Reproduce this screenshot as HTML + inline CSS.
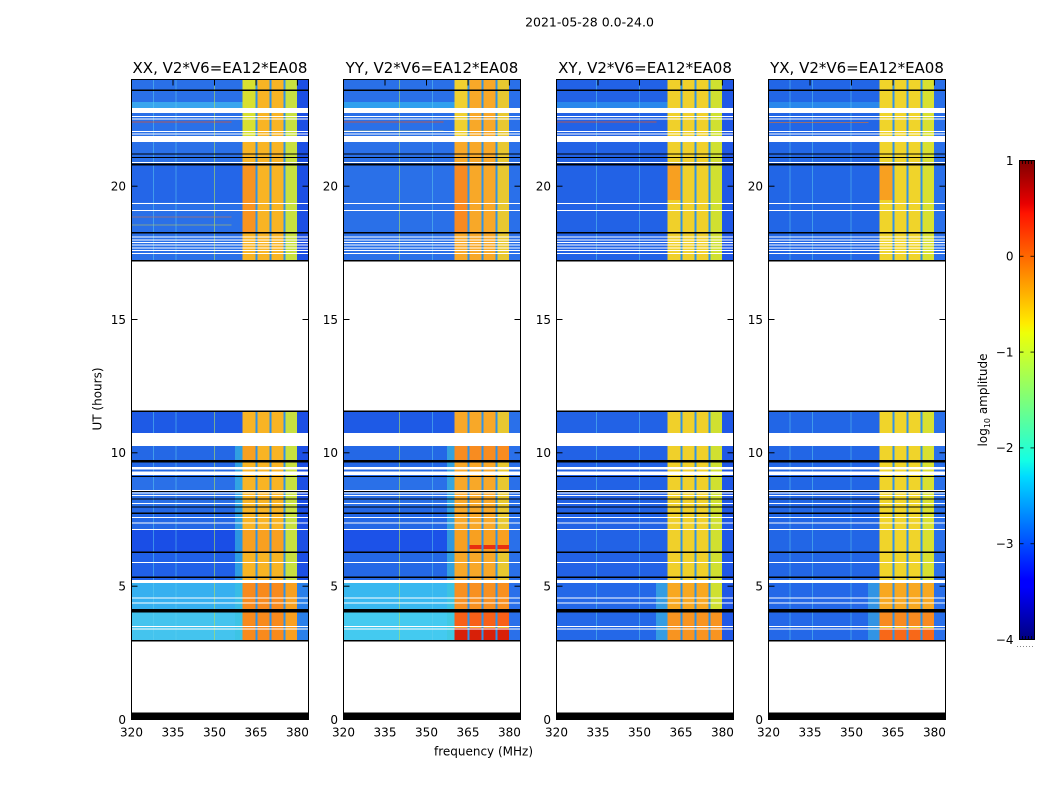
<!DOCTYPE html>
<html><head><meta charset="utf-8"><style>
html,body{margin:0;padding:0;background:#fff;}
svg{display:block;}
text{font-family:"DejaVu Sans","Liberation Sans",sans-serif;fill:#000;}
.tk{font-size:12px;}
</style></head><body>
<svg width="1050" height="800" viewBox="0 0 1050 800" xmlns="http://www.w3.org/2000/svg">
<defs>
<linearGradient id="jet" x1="0" y1="1" x2="0" y2="0">
<stop offset="0" stop-color="#000080"/>
<stop offset="0.11" stop-color="#0000ff"/>
<stop offset="0.125" stop-color="#0000ff"/>
<stop offset="0.34" stop-color="#00dbff"/>
<stop offset="0.375" stop-color="#15ffe3"/>
<stop offset="0.5" stop-color="#7dff7a"/>
<stop offset="0.64" stop-color="#eeff08"/>
<stop offset="0.66" stop-color="#ffec00"/>
<stop offset="0.89" stop-color="#ff1300"/>
<stop offset="0.91" stop-color="#e80000"/>
<stop offset="1" stop-color="#800000"/>
</linearGradient>
<g id="wm" fill="#fff">
<rect x="0.5" y="108" width="177" height="5"/>
<rect x="0.5" y="116" width="177" height="1"/>
<rect x="0.5" y="118.5" width="177" height="1"/>
<rect x="0.5" y="131" width="177" height="1"/>
<rect x="0.5" y="133.5" width="177" height="1"/>
<rect x="0.5" y="136" width="177" height="6"/>
<rect x="0.5" y="162" width="177" height="1"/>
<rect x="0.5" y="203" width="177" height="1"/>
<rect x="0.5" y="210" width="177" height="1"/>
<rect x="0.5" y="236.5" width="177" height="1"/>
<rect x="0.5" y="239.5" width="177" height="1"/>
<rect x="0.5" y="242" width="177" height="1"/>
<rect x="0.5" y="244.5" width="177" height="1"/>
<rect x="0.5" y="247.5" width="177" height="1"/>
<rect x="0.5" y="250" width="177" height="1"/>
<rect x="0.5" y="253" width="177" height="1"/>
<rect x="0.5" y="261.5" width="177" height="149"/>
<rect x="0.5" y="433" width="177" height="13"/>
<rect x="0.5" y="467" width="177" height="2.5"/>
<rect x="0.5" y="471.5" width="177" height="3.5"/>
<rect x="0.5" y="490" width="177" height="1"/>
<rect x="0.5" y="492.5" width="177" height="1"/>
<rect x="0.5" y="495" width="177" height="1"/>
<rect x="0.5" y="503" width="177" height="1"/>
<rect x="0.5" y="517" width="177" height="1"/>
<rect x="0.5" y="522.5" width="177" height="1"/>
<rect x="0.5" y="529" width="177" height="1"/>
<rect x="0.5" y="562" width="177" height="1"/>
<rect x="0.5" y="580" width="177" height="3"/>
<rect x="0.5" y="597.5" width="177" height="1"/>
<rect x="0.5" y="602.5" width="177" height="1"/>
<rect x="0.5" y="626" width="177" height="1"/>
<rect x="0.5" y="628.5" width="177" height="1"/>
<rect x="0.5" y="641.5" width="177" height="71"/>
</g>
<g id="bm" fill="#000">
<rect x="0.5" y="89.5" width="177" height="1.5"/>
<rect x="0.5" y="153.5" width="177" height="1"/>
<rect x="0.5" y="157" width="177" height="1"/>
<rect x="0.5" y="163.5" width="177" height="2"/>
<rect x="0.5" y="232" width="177" height="1.5"/>
<rect x="0.5" y="260" width="177" height="1.5"/>
<rect x="0.5" y="410.5" width="177" height="1.5"/>
<rect x="0.5" y="460" width="177" height="2.5"/>
<rect x="0.5" y="476" width="177" height="1"/>
<rect x="0.5" y="491" width="177" height="1"/>
<rect x="0.5" y="498.5" width="177" height="1"/>
<rect x="0.5" y="506.5" width="177" height="1"/>
<rect x="0.5" y="512.5" width="177" height="1.5"/>
<rect x="0.5" y="551.5" width="177" height="1.5"/>
<rect x="0.5" y="576.5" width="177" height="1.5"/>
<rect x="0.5" y="609" width="177" height="3.5"/>
<rect x="0.5" y="640" width="177" height="1.5"/>
<rect x="0.5" y="712.5" width="177" height="7"/>
</g>
<g id="dv" fill="#2f92e8">
<rect x="124.5" y="79.5" width="2" height="562"/>
<rect x="138.5" y="79.5" width="2" height="562"/>
<rect x="152.5" y="79.5" width="2" height="562"/>
</g>
<g id="fr">
<rect x="0.5" y="79.5" width="177" height="640" fill="none" stroke="#000" stroke-width="1"/>
<g stroke="#000" stroke-width="1">
<line x1="0.5" y1="719.5" x2="6.5" y2="719.5"/><line x1="171.5" y1="719.5" x2="177.5" y2="719.5"/>
<line x1="0.5" y1="586.2" x2="6.5" y2="586.2"/><line x1="171.5" y1="586.2" x2="177.5" y2="586.2"/>
<line x1="0.5" y1="452.8" x2="6.5" y2="452.8"/><line x1="171.5" y1="452.8" x2="177.5" y2="452.8"/>
<line x1="0.5" y1="319.5" x2="6.5" y2="319.5"/><line x1="171.5" y1="319.5" x2="177.5" y2="319.5"/>
<line x1="0.5" y1="186.2" x2="6.5" y2="186.2"/><line x1="171.5" y1="186.2" x2="177.5" y2="186.2"/>
<line x1="42" y1="719.5" x2="42" y2="713.5"/><line x1="42" y1="79.5" x2="42" y2="85.5"/>
<line x1="83.5" y1="719.5" x2="83.5" y2="713.5"/><line x1="83.5" y1="79.5" x2="83.5" y2="85.5"/>
<line x1="125" y1="719.5" x2="125" y2="713.5"/><line x1="125" y1="79.5" x2="125" y2="85.5"/>
<line x1="166.4" y1="719.5" x2="166.4" y2="713.5"/><line x1="166.4" y1="79.5" x2="166.4" y2="85.5"/>
</g>
<g class="tk" text-anchor="end">
<text x="-5" y="723.8">0</text>
<text x="-5" y="590.5">5</text>
<text x="-5" y="457.1">10</text>
<text x="-5" y="323.8">15</text>
<text x="-5" y="190.5">20</text>
</g>
<g class="tk" text-anchor="middle">
<text x="0.5" y="736.5">320</text>
<text x="42" y="736.5">335</text>
<text x="83.5" y="736.5">350</text>
<text x="125" y="736.5">365</text>
<text x="166.4" y="736.5">380</text>
</g>
</g>
</defs>

<text x="589.5" y="26.5" text-anchor="middle" style="font-size:12.5px">2021-05-28 0.0-24.0</text>

<!-- XX -->
<g transform="translate(131,0)">
<rect x="0.5" y="79.5" width="111" height="562" fill="#2468e6"/>
<rect x="0.5" y="79.5" width="111" height="182" fill="#2a70e8"/>
<rect x="0.5" y="102" width="111" height="6" fill="#3aa6ee"/>
<rect x="0.5" y="165" width="111" height="37" fill="#2466e8"/>
<rect x="0.5" y="411.5" width="111" height="22" fill="#1e5ae6"/>
<rect x="0.5" y="477" width="111" height="30" fill="#2a70e8"/>
<rect x="0.5" y="530" width="111" height="23" fill="#1a4ee6"/>
<rect x="0.5" y="553" width="111" height="27" fill="#2060e8"/>
<rect x="0.5" y="583" width="111" height="26" fill="#36b0f0"/>
<rect x="0.5" y="612" width="111" height="29" fill="#44c4ee"/>
<rect x="104" y="446" width="7.5" height="195" fill="#38c4e0" opacity="0.6"/>
<rect x="111.5" y="79.5" width="54.5" height="562" fill="#f8b424"/>
<rect x="154.5" y="79.5" width="11.5" height="562" fill="#c8e040"/>
<rect x="111.5" y="79.5" width="13" height="58" fill="#d8e030"/>
<rect x="111.5" y="165" width="13" height="68" fill="#f89420"/>
<rect x="111.5" y="446" width="13" height="16" fill="#f8a020"/>
<rect x="111.5" y="530" width="41" height="23" fill="#f8a020"/>
<rect x="111.5" y="583" width="41" height="58" fill="#f88a1c"/>
<rect x="154.5" y="583" width="11.5" height="58" fill="#f8a020"/>
<rect x="166" y="79.5" width="11.5" height="562" fill="#1c4fe4"/>
<rect x="166" y="583" width="11.5" height="58" fill="#2a80ea"/>
<rect x="22" y="79.5" width="1" height="562" fill="#60d0f0" opacity="0.5"/>
<rect x="44.5" y="79.5" width="1" height="562" fill="#60d0f0" opacity="0.5"/>
<rect x="83" y="79.5" width="1" height="562" fill="#b0e060" opacity="0.6"/>
<rect x="0.5" y="121.5" width="100" height="1" fill="#e85020" opacity="0.7"/>
<rect x="0.5" y="216.5" width="100" height="1" fill="#e87030" opacity="0.5"/>
<rect x="0.5" y="224.5" width="100" height="1" fill="#d0d040" opacity="0.5"/>
<use href="#dv"/><use href="#wm"/><use href="#bm"/><use href="#fr"/>
<text x="89" y="73" text-anchor="middle" style="font-size:15px">XX, V2*V6=EA12*EA08</text>
</g>

<!-- YY -->
<g transform="translate(343,0)">
<rect x="0.5" y="79.5" width="111" height="562" fill="#2468e6"/>
<rect x="0.5" y="79.5" width="111" height="182" fill="#2a70e8"/>
<rect x="0.5" y="102" width="111" height="6" fill="#30a0ee"/>
<rect x="0.5" y="411.5" width="111" height="22" fill="#1e5ae6"/>
<rect x="0.5" y="477" width="111" height="30" fill="#2a70e8"/>
<rect x="0.5" y="530" width="111" height="23" fill="#1c52e8"/>
<rect x="0.5" y="583" width="111" height="26" fill="#38b8f0"/>
<rect x="0.5" y="612" width="111" height="29" fill="#44caf0"/>
<rect x="104" y="446" width="7.5" height="195" fill="#40c8d8" opacity="0.6"/>
<rect x="111.5" y="79.5" width="54.5" height="562" fill="#f8a828"/>
<rect x="154.5" y="79.5" width="11.5" height="562" fill="#e8c830"/>
<rect x="111.5" y="79.5" width="13" height="58" fill="#f0d030"/>
<rect x="111.5" y="165" width="13" height="68" fill="#f88a20"/>
<rect x="111.5" y="446" width="54.5" height="16" fill="#f88c20"/>
<rect x="111.5" y="530" width="54.5" height="23" fill="#f8a020"/>
<rect x="126.5" y="545" width="39.5" height="4" fill="#e83010"/>
<rect x="111.5" y="583" width="54.5" height="26" fill="#f89020"/>
<rect x="111.5" y="612" width="54.5" height="15" fill="#f86018"/>
<rect x="111.5" y="628" width="54.5" height="13" fill="#d82008"/>
<rect x="166" y="79.5" width="11.5" height="562" fill="#2a70ea"/>
<rect x="56" y="79.5" width="1" height="562" fill="#b0e060" opacity="0.6"/>
<rect x="89" y="79.5" width="1" height="562" fill="#60d0f0" opacity="0.5"/>
<rect x="0.5" y="121.5" width="100" height="1" fill="#e85020" opacity="0.7"/>
<rect x="0.5" y="130.5" width="100" height="1" fill="#d0d040" opacity="0.5"/>
<use href="#dv"/><use href="#wm"/><use href="#bm"/><use href="#fr"/>
<text x="89" y="73" text-anchor="middle" style="font-size:15px">YY, V2*V6=EA12*EA08</text>
</g>

<!-- XY -->
<g transform="translate(556,0)">
<rect x="0.5" y="79.5" width="111" height="562" fill="#2262e6"/>
<rect x="0.5" y="102" width="111" height="6" fill="#2a88ec"/>
<rect x="0.5" y="583" width="111" height="58" fill="#2468e8"/>
<rect x="100" y="583" width="11.5" height="58" fill="#40c0e0" opacity="0.6"/>
<rect x="111.5" y="79.5" width="54.5" height="562" fill="#f0d02a"/>
<rect x="154.5" y="79.5" width="11.5" height="562" fill="#d0e030"/>
<rect x="111.5" y="165" width="13" height="35" fill="#f8a020"/>
<rect x="111.5" y="583" width="41" height="26" fill="#f8a820"/>
<rect x="111.5" y="612" width="54.5" height="29" fill="#f89420"/>
<rect x="166" y="79.5" width="11.5" height="562" fill="#2058e6"/>
<rect x="40" y="79.5" width="1" height="562" fill="#60d0f0" opacity="0.5"/>
<rect x="83" y="79.5" width="1" height="562" fill="#60d0f0" opacity="0.5"/>
<rect x="0.5" y="121.5" width="100" height="1" fill="#e85020" opacity="0.7"/>
<use href="#dv"/><use href="#wm"/><use href="#bm"/><use href="#fr"/>
<text x="89" y="73" text-anchor="middle" style="font-size:15px">XY, V2*V6=EA12*EA08</text>
</g>

<!-- YX -->
<g transform="translate(768,0)">
<rect x="0.5" y="79.5" width="111" height="562" fill="#2266e6"/>
<rect x="0.5" y="102" width="111" height="6" fill="#2a88ec"/>
<rect x="0.5" y="583" width="111" height="58" fill="#2468e8"/>
<rect x="100" y="583" width="11.5" height="58" fill="#40c0e0" opacity="0.5"/>
<rect x="111.5" y="79.5" width="54.5" height="562" fill="#f0d42a"/>
<rect x="154.5" y="79.5" width="11.5" height="562" fill="#d8e030"/>
<rect x="111.5" y="165" width="13" height="35" fill="#f8a020"/>
<rect x="111.5" y="583" width="54.5" height="26" fill="#f8a820"/>
<rect x="111.5" y="612" width="54.5" height="15" fill="#f88a20"/>
<rect x="111.5" y="628" width="54.5" height="13" fill="#f86818"/>
<rect x="166" y="79.5" width="11.5" height="562" fill="#2a70ea"/>
<rect x="21.5" y="79.5" width="1" height="562" fill="#60d0f0" opacity="0.5"/>
<rect x="44" y="79.5" width="1" height="562" fill="#60d0f0" opacity="0.5"/>
<rect x="82.5" y="79.5" width="1" height="562" fill="#60d0f0" opacity="0.5"/>
<rect x="0.5" y="122" width="100" height="1" fill="#e87020" opacity="0.6"/>
<use href="#dv"/><use href="#wm"/><use href="#bm"/><use href="#fr"/>
<text x="89" y="73" text-anchor="middle" style="font-size:15px">YX, V2*V6=EA12*EA08</text>
</g>

<text x="483.5" y="755.5" text-anchor="middle" style="font-size:12px">frequency (MHz)</text>
<text transform="translate(101.5,399) rotate(-90)" text-anchor="middle" style="font-size:12px">UT (hours)</text>

<!-- colorbar -->
<rect x="1019.5" y="160.5" width="15" height="479" fill="url(#jet)" stroke="#000" stroke-width="1"/>
<g stroke="#000" stroke-width="1" opacity="0.8">
<line x1="1019.5" y1="256.3" x2="1023.5" y2="256.3"/><line x1="1030.5" y1="256.3" x2="1034.5" y2="256.3"/>
<line x1="1019.5" y1="352.1" x2="1023.5" y2="352.1"/><line x1="1030.5" y1="352.1" x2="1034.5" y2="352.1"/>
<line x1="1019.5" y1="447.9" x2="1023.5" y2="447.9"/><line x1="1030.5" y1="447.9" x2="1034.5" y2="447.9"/>
<line x1="1019.5" y1="543.7" x2="1023.5" y2="543.7"/><line x1="1030.5" y1="543.7" x2="1034.5" y2="543.7"/>
<line x1="1022.5" y1="161" x2="1022.5" y2="164"/><line x1="1025.5" y1="161" x2="1025.5" y2="164"/><line x1="1028.5" y1="161" x2="1028.5" y2="164"/><line x1="1031.5" y1="161" x2="1031.5" y2="164"/>
<line x1="1022.5" y1="636" x2="1022.5" y2="639"/><line x1="1025.5" y1="636" x2="1025.5" y2="639"/><line x1="1028.5" y1="636" x2="1028.5" y2="639"/><line x1="1031.5" y1="636" x2="1031.5" y2="639"/>
</g>
<line x1="1017" y1="646.5" x2="1035" y2="646.5" stroke="#888" stroke-width="1" stroke-dasharray="1,2"/>
<g class="tk" text-anchor="end">
<text x="1013.5" y="164.8">1</text>
<text x="1013.5" y="260.6">0</text>
<text x="1013.5" y="356.4">−1</text>
<text x="1013.5" y="452.2">−2</text>
<text x="1013.5" y="548">−3</text>
<text x="1013.5" y="643.8">−4</text>
</g>
<text transform="translate(987,400) rotate(-90)" text-anchor="middle" style="font-size:12px">log<tspan style="font-size:8px" dy="3">10</tspan><tspan dy="-3"> amplitude</tspan></text>
</svg>
</body></html>
